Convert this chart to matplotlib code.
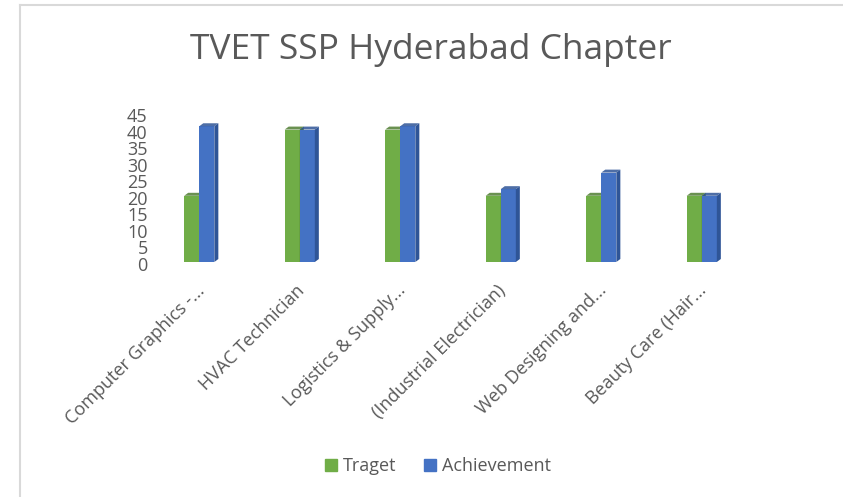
import numpy as np
import matplotlib.pyplot as plt
import matplotlib.patches as mpatches
import matplotlib.transforms as mtransforms

plt.rcParams['font.family'] = ['Open Sans', 'DejaVu Sans']

# data
categories = ['Computer Graphics -...', 'HVAC Technician', 'Logistics & Supply...',
              '(Industrial Electrician)', 'Web Designing and...', 'Beauty Care (Hair...']
target = [20, 40, 40, 20, 20, 20]
achievement = [41, 40, 41, 22, 27, 20]
series_names = ['Traget', 'Achievement']
yticks = list(range(0, 50, 5))

green, blue = '#70AD47', '#4472C4'
green_dark, blue_dark = '#507E32', '#2F5597'
text_col = '#595959'

fig = plt.figure(figsize=(8.43, 4.97), dpi=100)
ax = fig.add_axes([149 / 843, 1 - 262 / 497, (752 - 149) / 843, (262 - 113) / 497])

x = np.arange(len(categories))
w = 0.15
dx, dy = 0.04, 0.9   # fake 3D depth

def draw_bars(xs, vals, face, dark):
    for xi, v in zip(xs, vals):
        l, r = xi - w / 2, xi + w / 2
        ax.add_patch(mpatches.Rectangle((l, 0), w, v, facecolor=face, edgecolor='none'))
        # right side face
        ax.add_patch(mpatches.Polygon([(r, 0), (r + dx, dy), (r + dx, v + dy), (r, v)],
                                      closed=True, facecolor=dark, edgecolor='none'))
        # top face
        ax.add_patch(mpatches.Polygon([(l, v), (l + dx, v + dy), (r + dx, v + dy), (r, v)],
                                      closed=True, facecolor=dark, edgecolor='none', alpha=0.85))

draw_bars(x - w / 2, target, green, green_dark)
draw_bars(x + w / 2, achievement, blue, blue_dark)

ax.set_xlim(-0.5, len(categories) - 0.5)
ax.set_ylim(0, 45)
ax.set_yticks(yticks)
ax.set_xticks(x)
ax.set_xticklabels(categories, rotation=45, ha='right', rotation_mode='anchor')
for s in ax.spines.values():
    s.set_visible(False)
ax.tick_params(axis='both', length=0, colors=text_col)
ax.tick_params(axis='y', pad=1, labelsize=13)
ax.tick_params(axis='x', pad=14, labelsize=13)
off = mtransforms.ScaledTranslation(0, -4 / 100, fig.dpi_scale_trans)
for lab in ax.get_yticklabels():
    lab.set_transform(lab.get_transform() + off)
    lab.set_verticalalignment('center')
xoff = mtransforms.ScaledTranslation(-4 / 100, 0, fig.dpi_scale_trans)
for lab in ax.get_xticklabels():
    lab.set_transform(lab.get_transform() + xoff)

fig.text(431 / 843, 1 - 50 / 497, 'TVET SSP Hyderabad Chapter', ha='center', va='center',
         fontsize=25.5, color=text_col)

handles = [mpatches.Patch(color=green, label=series_names[0]),
           mpatches.Patch(color=blue, label=series_names[1])]
leg = fig.legend(handles=handles, loc='center', bbox_to_anchor=(438 / 843, 1 - 466 / 497),
                 ncol=2, frameon=False, fontsize=13, handlelength=0.65, handleheight=0.65,
                 handletextpad=0.35, columnspacing=1.5)
for t in leg.get_texts():
    t.set_color(text_col)

# chart border (top and left visible in the screenshot)
fig.add_artist(plt.Line2D([20 / 843, 20 / 843], [0, 1 - 5 / 497], color='#D9D9D9', lw=1.5,
                          transform=fig.transFigure))
fig.add_artist(plt.Line2D([20 / 843, 1], [1 - 5 / 497, 1 - 5 / 497], color='#D9D9D9', lw=1.5,
                          transform=fig.transFigure))

fig.savefig('out.png', dpi=100)
